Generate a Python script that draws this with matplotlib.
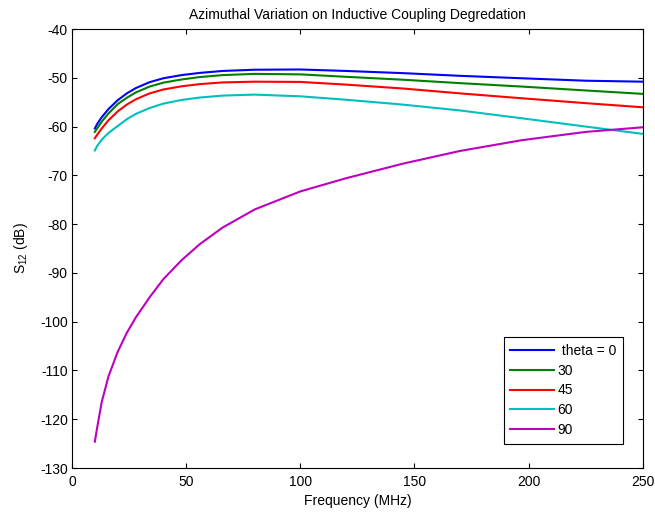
import matplotlib
matplotlib.use('Agg')
import matplotlib.pyplot as plt

# frecuencias (MHz) y S12 (dB) para cada angulo theta
freq = [10, 11, 13, 16, 20, 24, 28, 34, 40, 48, 56, 66, 80, 100, 120, 145, 170, 197, 225, 250]
s12_0 = [-60.4, -59.5, -58.1, -56.4, -54.6, -53.2, -52.1, -50.9, -50.1, -49.45, -49.0, -48.6,
         -48.35, -48.3, -48.6, -49.05, -49.6, -50.1, -50.6, -50.8]
s12_30 = [-61.1, -60.4, -59.0, -57.3, -55.4, -54.1, -53.0, -51.8, -51.0, -50.35, -49.85, -49.45,
          -49.2, -49.3, -49.8, -50.4, -51.1, -51.8, -52.6, -53.3]
s12_45 = [-62.4, -61.7, -60.4, -58.7, -56.9, -55.5, -54.4, -53.2, -52.4, -51.75, -51.3, -50.95,
          -50.8, -50.85, -51.4, -52.2, -53.2, -54.2, -55.2, -56.05]
s12_60 = [-64.9, -64.0, -62.7, -61.3, -59.9, -58.5, -57.4, -56.2, -55.3, -54.55, -54.05, -53.65,
          -53.45, -53.8, -54.5, -55.5, -56.7, -58.3, -60.0, -61.5]
s12_90 = [-124.6, -121.8, -116.5, -111.2, -106.2, -102.3, -99.1, -95.0, -91.3, -87.4, -84.1, -80.7,
          -77.0, -73.3, -70.6, -67.6, -65.0, -62.8, -61.1, -60.15]

labels = [' theta = 0', '30', '45', '60', '90']
colors = ['#0000ff', '#008000', '#ff0000', '#00bfbf', '#bf00bf']

plt.rcParams['font.family'] = ['Liberation Sans', 'DejaVu Sans']
plt.rcParams['mathtext.fontset'] = 'custom'
plt.rcParams['mathtext.rm'] = 'Liberation Sans'
plt.rcParams['mathtext.it'] = 'Liberation Sans'
plt.rcParams['axes.unicode_minus'] = False
plt.rcParams['font.size'] = 10

fig = plt.figure(figsize=(6.55, 5.13), dpi=100)
ax = fig.add_axes([72 / 655, 45 / 513, 570.7 / 655, 439 / 513])

for ys, lab, col in zip([s12_0, s12_30, s12_45, s12_60, s12_90], labels, colors):
    ax.plot(freq, ys, color=col, linewidth=1.5, label=lab)

ax.set_xlim(0, 250)
ax.set_ylim(-130, -40)
ax.set_xticks(range(0, 251, 50))
ax.set_yticks(range(-130, -39, 10))
ax.tick_params(direction='in', top=True, right=True, length=3.5, width=0.8)
ax.tick_params(axis='x', pad=5)
ax.tick_params(axis='y', pad=3)
for sp in ax.spines.values():
    sp.set_linewidth(0.8)

ax.set_title('Azimuthal Variation on Inductive Coupling Degredation', fontsize=10, pad=7)
ax.set_xlabel('Frequency (MHz)', labelpad=4)
ax.set_ylabel(r'S$_{12}$ (dB)', labelpad=7)

leg = ax.legend(loc='lower right', bbox_to_anchor=(0.9655, 0.0547), fancybox=False,
                edgecolor='black', framealpha=1, handlelength=3.1, handletextpad=0.3,
                labelspacing=0.42, borderpad=0.5, borderaxespad=0)
leg.get_frame().set_linewidth(0.8)

plt.savefig('out.png', dpi=100)
plt.close()
